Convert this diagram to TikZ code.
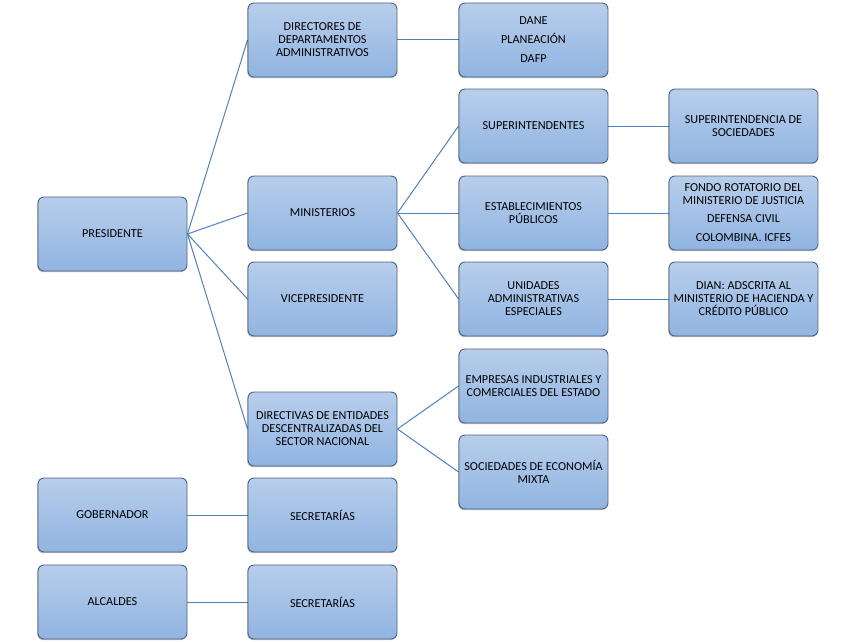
\documentclass[tikz,border=0pt]{standalone}
\usepackage{fontspec}
\setmainfont{Carlito}
\usetikzlibrary{shadows,backgrounds}
\definecolor{bxborder}{RGB}{78,98,128}
\definecolor{bxtop}{RGB}{184,206,235}
\definecolor{bxbot}{RGB}{144,180,225}
\definecolor{conncol}{RGB}{79,129,189}
\tikzset{
  bx/.style={draw=bxborder, line width=0.9pt, rounded corners=6pt,
    top color=bxtop, bottom color=bxbot,
    minimum width=149pt, minimum height=74pt, inner sep=1pt,
    align=center, text=black,
    font=\fontsize{12.2}{13}\selectfont,
    drop shadow={shadow xshift=-0.8pt, shadow yshift=-1.2pt, opacity=0.25, fill=black}},
  conn/.style={draw=conncol, line width=1pt}
}
\begin{document}
\begin{tikzpicture}[x=1pt,y=-1pt]
\useasboundingbox (0,0) rectangle (856,642);
% column 1
\node[bx] (pres) at (112.5,234) {PRESIDENTE};
\node[bx] (gob) at (112.5,515) {GOBERNADOR};
\node[bx] (alc) at (112.5,602) {ALCALDES};
% column 2
\node[bx] (dir) at (322.5,40) {DIRECTORES DE\\DEPARTAMENTOS\\ADMINISTRATIVOS};
\node[bx] (min) at (322.5,213) {MINISTERIOS};
\node[bx] (vice) at (322.5,299) {VICEPRESIDENTE};
\node[bx] (dirent) at (322.5,429) {DIRECTIVAS DE ENTIDADES\\DESCENTRALIZADAS DEL\\SECTOR NACIONAL};
\node[bx] (sec1) at (322.5,515) {SECRETARÍAS};
\node[bx] (sec2) at (322.5,602) {SECRETARÍAS};
% column 3
\node[bx] (dane) at (533.5,40) {DANE\\[6pt]PLANEACIÓN\\[6pt]DAFP};
\node[bx] (sup) at (533.5,126) {SUPERINTENDENTES};
\node[bx] (est) at (533.5,213) {ESTABLECIMIENTOS\\PÚBLICOS};
\node[bx] (uni) at (533.5,299) {UNIDADES\\ADMINISTRATIVAS\\ESPECIALES};
\node[bx] (emp) at (533.5,386) {EMPRESAS INDUSTRIALES Y\\COMERCIALES DEL ESTADO};
\node[bx] (soc) at (533.5,472) {SOCIEDADES DE ECONOMÍA\\MIXTA};
% column 4
\node[bx] (supsoc) at (743.5,126) {SUPERINTENDENCIA DE\\SOCIEDADES};
\node[bx] (fondo) at (743.5,213) {FONDO ROTATORIO DEL\\MINISTERIO DE JUSTICIA\\[5pt]DEFENSA CIVIL\\[6pt]COLOMBINA. ICFES};
\node[bx] (dian) at (743.5,299) {DIAN: ADSCRITA AL\\MINISTERIO DE HACIENDA Y\\CRÉDITO PÚBLICO};
% connectors
\begin{scope}[on background layer]
\draw[conn] (pres.east) -- (dir.west);
\draw[conn] (pres.east) -- (min.west);
\draw[conn] (pres.east) -- (vice.west);
\draw[conn] (pres.east) -- (dirent.west);
\draw[conn] (dir.east) -- (dane.west);
\draw[conn] (min.east) -- (sup.west);
\draw[conn] (min.east) -- (est.west);
\draw[conn] (min.east) -- (uni.west);
\draw[conn] (sup.east) -- (supsoc.west);
\draw[conn] (est.east) -- (fondo.west);
\draw[conn] (uni.east) -- (dian.west);
\draw[conn] (dirent.east) -- (emp.west);
\draw[conn] (dirent.east) -- (soc.west);
\draw[conn] (gob.east) -- (sec1.west);
\draw[conn] (alc.east) -- (sec2.west);
\end{scope}
\end{tikzpicture}
\end{document}
